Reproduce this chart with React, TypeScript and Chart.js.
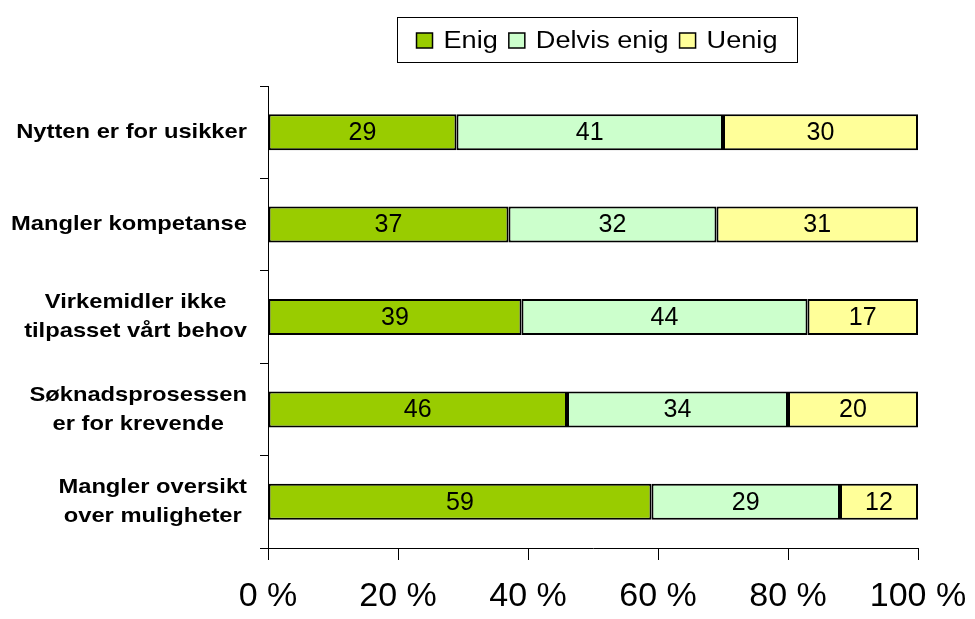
import React, { useEffect, useRef } from "react";
import { Chart, registerables } from "chart.js";

Chart.register(...registerables);

const categories: string[][] = [
  ["Nytten er for usikker"],
  ["Mangler kompetanse"],
  ["Virkemidler ikke", "tilpasset vårt behov"],
  ["Søknadsprosessen", "er for krevende"],
  ["Mangler oversikt", "over muligheter"],
];
const enig = [29, 37, 39, 46, 59];
const delvisEnig = [41, 32, 44, 34, 29];
const uenig = [30, 31, 17, 20, 12];
const seriesNames = ["Enig", "Delvis enig", "Uenig"];
const xTicks = [0, 20, 40, 60, 80, 100];

const FONT = "'Liberation Sans', Arial, sans-serif";
const COLORS = ["#99CC00", "#CCFFCC", "#FFFF99"];

function stretchedText(ctx: any, text: string, x: number, y: number, align: "left" | "center" | "right", sx: number) {
  ctx.save();
  ctx.translate(x, y);
  ctx.scale(sx, 1);
  ctx.textAlign = align;
  ctx.fillText(text, 0, 0);
  ctx.restore();
}

const valueLabels = {
  id: "valueLabels",
  afterDatasetsDraw(chart: any) {
    const ctx = chart.ctx;
    ctx.save();
    ctx.font = `25px ${FONT}`;
    ctx.fillStyle = "#000";
    ctx.textAlign = "center";
    ctx.textBaseline = "middle";
    chart.data.datasets.forEach((ds: any, di: number) => {
      const meta = chart.getDatasetMeta(di);
      meta.data.forEach((bar: any, i: number) => {
        const cx = (bar.x + bar.base) / 2;
        ctx.fillText(String(ds.data[i]), cx, bar.y + 1);
      });
    });
    ctx.restore();
  },
};

const yLabels = {
  id: "yLabels",
  afterDraw(chart: any) {
    const ctx = chart.ctx;
    const y = chart.scales.y;
    const sx = 1.13;
    ctx.save();
    ctx.font = `bold 21px ${FONT}`;
    ctx.fillStyle = "#000";
    ctx.textBaseline = "middle";
    const right = 239;
    const lh = 29;
    categories.forEach((lines, i) => {
      const cy = y.getPixelForValue(i);
      const w = Math.max(...lines.map((l) => ctx.measureText(l).width)) * sx;
      const cx = right - w / 2;
      lines.forEach((l, j) => {
        stretchedText(ctx, l, cx, cy + (j - (lines.length - 1) / 2) * lh, "center", sx);
      });
    });
    ctx.restore();
  },
};

const xLabels = {
  id: "xLabels",
  afterDraw(chart: any) {
    const ctx = chart.ctx;
    const x = chart.scales.x;
    ctx.save();
    ctx.font = `34px ${FONT}`;
    ctx.fillStyle = "#000";
    ctx.textBaseline = "middle";
    ctx.textAlign = "center";
    xTicks.forEach((v) => {
      ctx.fillText(`${v} %`, x.getPixelForValue(v), chart.chartArea.bottom + 49);
    });
    ctx.restore();
  },
};

const boxLegend = {
  id: "boxLegend",
  afterDraw(chart: any) {
    const ctx = chart.ctx;
    const sx = 1.18;
    ctx.save();
    const x0 = 389, y0 = 9, w = 400, h = 45;
    ctx.strokeStyle = "#000";
    ctx.lineWidth = 1;
    ctx.strokeRect(x0 + 0.5, y0 + 0.5, w, h);
    ctx.font = `23px ${FONT}`;
    ctx.textBaseline = "middle";
    const sqW = 16;
    const sqH = 15;
    const gap = 11;
    const itemGap = 11;
    const widths = seriesNames.map((n) => sqW + gap + ctx.measureText(n).width * sx);
    const total = widths.reduce((a, b) => a + b, 0) + itemGap * (seriesNames.length - 1);
    let x = x0 + (w - total) / 2;
    const cy = y0 + h / 2 + 1;
    seriesNames.forEach((n, i) => {
      ctx.fillStyle = COLORS[i];
      ctx.fillRect(x, cy - sqH / 2, sqW, sqH);
      ctx.strokeStyle = "#000";
      ctx.lineWidth = 1.5;
      ctx.strokeRect(x, cy - sqH / 2, sqW, sqH);
      ctx.fillStyle = "#000";
      stretchedText(ctx, n, x + sqW + gap, cy + 1, "left", sx);
      x += widths[i] + itemGap;
    });
    ctx.restore();
  },
};

export default function App() {
  const ref = useRef<HTMLCanvasElement>(null);
  useEffect(() => {
    if (!ref.current) return;
    const chart = new Chart(ref.current, {
      type: "bar",
      data: {
        labels: categories.map((c) => c.join(" ")),
        datasets: [enig, delvisEnig, uenig].map((d, i) => ({
          label: seriesNames[i],
          data: d,
          backgroundColor: COLORS[i],
          borderColor: "#000",
          borderWidth: 2,
          borderSkipped: false,
          barPercentage: 0.39,
          categoryPercentage: 1,
        })),
      },
      options: {
        indexAxis: "y",
        animation: false,
        responsive: false,
        layout: { padding: { top: 78, right: 49, left: 0, bottom: 0 } },
        plugins: {
          legend: { display: false },
          tooltip: { enabled: false },
        },
        scales: {
          x: {
            stacked: true,
            min: 0,
            max: 100,
            afterBuildTicks: (s: any) => {
              s.ticks = xTicks.map((v) => ({ value: v }));
            },
            afterFit: (s: any) => {
              s.height = 63;
            },
            border: { display: true, color: "#000", width: 1 },
            grid: {
              drawOnChartArea: false,
              drawTicks: true,
              tickLength: 12,
              color: "#000",
            },
            ticks: { display: false },
          },
          y: {
            stacked: true,
            afterFit: (s: any) => {
              s.width = 260;
            },
            border: { display: true, color: "#000", width: 1 },
            grid: {
              offset: true,
              drawOnChartArea: false,
              drawTicks: true,
              tickLength: 8,
              color: "#000",
            },
            ticks: { display: false },
          },
        },
      },
      plugins: [valueLabels, yLabels, xLabels, boxLegend],
    });
    return () => chart.destroy();
  }, []);
  return <canvas ref={ref} width={959} height={603} style={{ display: "block" }} />;
}
